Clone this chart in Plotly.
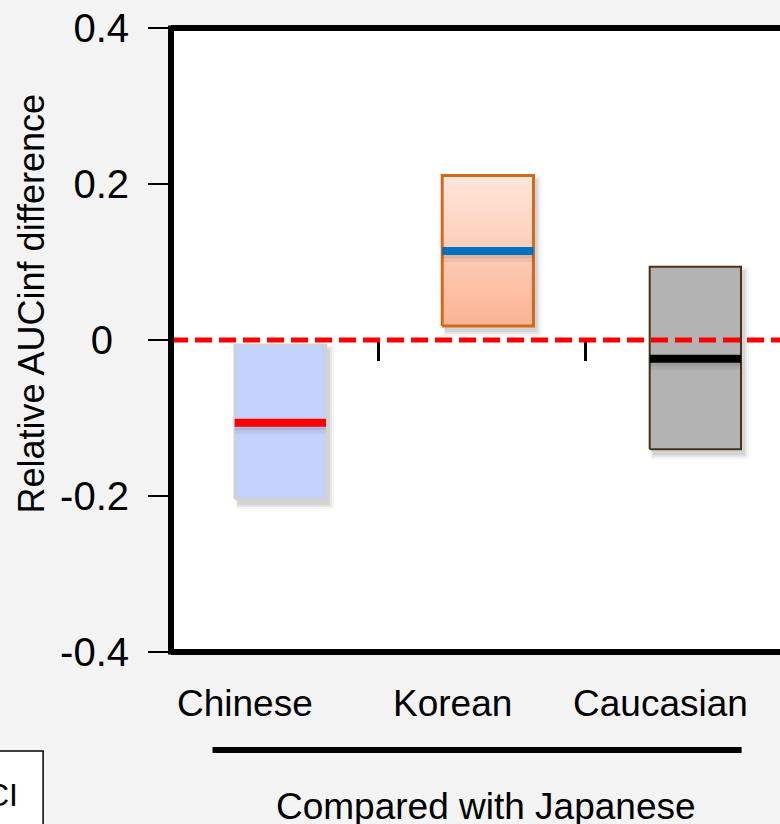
import plotly.graph_objects as go

# ---- data -------------------------------------------------------------
groups = ["Chinese", "Korean", "Caucasian"]
ci_lower = [-0.204, 0.018, -0.140]
ci_upper = [-0.006, 0.211, 0.094]
point_est = [-0.106, 0.114, -0.024]
y_tick_vals = [0.4, 0.2, 0, -0.2, -0.4]
y_tick_text = ["0.4", "0.2", "0\u2009\u2009", "-0.2", "-0.4"]
reference_value = 0.0
comparison_label = "Compared with Japanese"
y_title = "Relative AUCinf difference"

# ---- styling ----------------------------------------------------------
FONT = "Liberation Sans, Arial, sans-serif"
W, H = 780, 824
ML, MR, MT, MB = 171, 0, 28, 172
X_RANGE = [-0.5, 2.435]
Y_RANGE = [-0.4, 0.4]
px_x = (X_RANGE[1] - X_RANGE[0]) / (W - ML - MR)   # data units per pixel
px_y = (Y_RANGE[1] - Y_RANGE[0]) / (H - MT - MB)

box_shift = 0.027
box_half = 0.22
box_styles = [
    dict(fill="#c4d1fd", line="#d2d2d2", lw=2.5, grad=None, median="#ff0000"),
    dict(fill=None, line="#d06a1c", lw=3,
         grad=[[0, "#fcb493"], [1, "#ffe6dc"]], median="#0070c0"),
    dict(fill="#b3b3b3", line="#4a3118", lw=2, grad=None, median="#000000"),
]

positions = list(range(len(groups)))
fig = go.Figure()

# soft drop shadows under the CI boxes
for i, p in enumerate(positions):
    c = p + box_shift
    for k, alpha in [(5, 0.04), (3, 0.06), (1, 0.08)]:
        x0 = c - box_half + (3 - k * 0.3) * px_x
        x1 = c + box_half + (3 + k) * px_x
        y0 = ci_lower[i] - (5 + k) * px_y
        y1 = ci_upper[i] - (5 - k) * px_y
        fig.add_trace(go.Scatter(
            x=[x0, x1, x1, x0, x0], y=[y0, y0, y1, y1, y0],
            mode="lines", line=dict(width=0), fill="toself",
            fillcolor=f"rgba(0,0,0,{alpha})", hoverinfo="skip", showlegend=False))

# CI boxes
for i, p in enumerate(positions):
    c = p + box_shift
    st = box_styles[i]
    xs = [c - box_half, c + box_half, c + box_half, c - box_half, c - box_half]
    ys = [ci_lower[i], ci_lower[i], ci_upper[i], ci_upper[i], ci_lower[i]]
    kw = dict(x=xs, y=ys, mode="lines", fill="toself",
              line=dict(color=st["line"], width=st["lw"]),
              hoverinfo="skip", showlegend=False)
    if st["grad"]:
        kw["fillgradient"] = dict(type="vertical", colorscale=st["grad"])
    else:
        kw["fillcolor"] = st["fill"]
    fig.add_trace(go.Scatter(**kw))

# point estimates (with a faint shadow), on the overlay axis that carries
# the category separator ticks
for i, p in enumerate(positions):
    c = p + box_shift
    for off, wd, a in [(5, 12, 0.05), (3, 9, 0.08)]:
        fig.add_trace(go.Scatter(
            x=[c - box_half, c + box_half], y=[point_est[i] - off * px_y] * 2,
            mode="lines", line=dict(color=f"rgba(0,0,0,{a})", width=wd),
            xaxis="x2", hoverinfo="skip", showlegend=False))
    fig.add_trace(go.Scatter(
        x=[c - box_half, c + box_half], y=[point_est[i]] * 2,
        mode="lines", line=dict(color=box_styles[i]["median"], width=8),
        xaxis="x2", hoverinfo="skip", showlegend=False))

shapes = []
# dashed reference line at no difference
shapes.append(dict(type="line", xref="paper", yref="y", x0=0, x1=1,
                   y0=reference_value, y1=reference_value, layer="above",
                   line=dict(color="#ff0000", width=5, dash="17px,7px")))
# plot frame (left, top, bottom)
frame = dict(color="#000000", width=6)
shapes.append(dict(type="line", xref="paper", yref="paper", x0=0, x1=0,
                   y0=-0.004, y1=1.004, line=frame, layer="above"))
shapes.append(dict(type="line", xref="paper", yref="paper", x0=0, x1=1.05,
                   y0=1, y1=1, line=frame, layer="above"))
shapes.append(dict(type="line", xref="paper", yref="paper", x0=0, x1=1.05,
                   y0=0, y1=0, line=frame, layer="above"))
# bracket under the group labels
shapes.append(dict(type="line", xref="x", yref="paper", x0=-0.30, x1=2.25,
                   y0=-0.157, y1=-0.157, line=dict(color="#000000", width=6)))
# legend box
shapes.append(dict(type="rect", xref="paper", yref="paper", x0=-0.4, x1=-0.210,
                   y0=-0.4, y1=-0.1587, fillcolor="#ffffff",
                   line=dict(color="#000000", width=1.5)))

annotations = []
for i, p in enumerate(positions):
    annotations.append(dict(x=p - 0.143, y=-0.0833, xref="x", yref="paper",
                            text=groups[i], showarrow=False,
                            xanchor="center", yanchor="middle",
                            font=dict(family=FONT, size=37, color="#000000")))
annotations.append(dict(x=1.02, y=-0.2476, xref="x", yref="paper",
                        text=comparison_label, showarrow=False,
                        xanchor="center", yanchor="middle",
                        font=dict(family=FONT, size=37, color="#000000")))
annotations.append(dict(x=(30.5 - ML) / (W - ML - MR), y=(H - MB - 304) / (H - MT - MB),
                        xref="paper", yref="paper", text=y_title, textangle=-90,
                        showarrow=False, xanchor="center", yanchor="middle",
                        font=dict(family=FONT, size=36, color="#000000")))
annotations.append(dict(x=(20 - ML) / (W - ML - MR), y=(H - MB - 795) / (H - MT - MB),
                        xref="paper", yref="paper", text="CI", showarrow=False,
                        xanchor="right", yanchor="middle",
                        font=dict(family=FONT, size=32, color="#000000")))

fig.update_layout(
    width=W, height=H,
    margin=dict(l=ML, r=MR, t=MT, b=MB, pad=0),
    paper_bgcolor="#f4f4f4", plot_bgcolor="#ffffff",
    showlegend=False,
    xaxis=dict(range=X_RANGE, showgrid=False, zeroline=False, showline=False,
               showticklabels=False, ticks="", fixedrange=True),
    xaxis2=dict(range=X_RANGE, overlaying="x", anchor="free",
                position=(reference_value - Y_RANGE[0]) / (Y_RANGE[1] - Y_RANGE[0]),
                side="bottom", tickmode="array",
                tickvals=[p + 0.5 for p in positions[:-1]],
                ticks="outside", ticklen=20, tickwidth=2.5, tickcolor="#000000",
                showticklabels=False, showgrid=False, zeroline=False,
                showline=False, fixedrange=True),
    yaxis=dict(range=Y_RANGE, tickmode="array", tickvals=y_tick_vals,
               ticktext=y_tick_text, ticks="outside", ticklen=22, tickwidth=1.5,
               tickcolor="#000000", ticklabelstandoff=11,
               tickfont=dict(family=FONT, size=40, color="#000000"),
               showgrid=False, zeroline=False, showline=False, fixedrange=True),
    shapes=shapes,
    annotations=annotations,
)

fig.write_html("out.html")
